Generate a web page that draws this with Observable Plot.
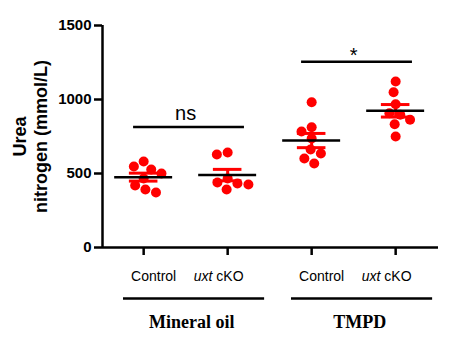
<!DOCTYPE html>
<html><head><meta charset="utf-8">
<script src="https://cdn.jsdelivr.net/npm/d3@7"></script>
<script src="https://cdn.jsdelivr.net/npm/@observablehq/plot@0.6"></script>
<style>body{margin:0;background:#fff}</style>
</head><body><div id="chart"></div>
<script>
// ---- data ----
const groups = ["Mineral oil", "TMPD"];
const categories = ["Control", "uxt cKO", "Control", "uxt cKO"];
const categoryGroup = [0, 0, 1, 1];
const mineralOilControl = [581, 547, 527, 500, 466, 419, 392, 372];
const mineralOilCko = [642, 628, 466, 439, 432, 426, 392];
const tmpdControl = [982, 813, 784, 736, 662, 635, 601, 568];
const tmpdCko = [1122, 1049, 968, 907, 897, 863, 833, 750];
const yTicks = [0, 500, 1000, 1500];
const comparisons = [
  {a: 0, b: 1, level: 815, label: "ns"},
  {a: 2, b: 3, level: 1255, label: "*"}
];

// ---- layout ----
const W = 453, H = 348, mL = 102, mR = 15, mT = 25, mB = 101;
const xDomain = [-0.49, 3.51];
const yDomain = [0, 1500];
const R = 5;
const red = "#ff0000";
const pxX = (W - mL - mR) / (xDomain[1] - xDomain[0]);
const pxY = (H - mT - mB) / (yDomain[1] - yDomain[0]);

// simple deterministic beeswarm (pixel space), returns x offsets in x units
function swarm(values, D) {
  const order = d3.range(values.length).sort((a, b) => values[b] - values[a]);
  const placed = [], out = new Array(values.length);
  for (const k of order) {
    const y = values[k] * pxY;
    const iv = [];
    for (const p of placed) {
      const dy = Math.abs(p.y - y);
      if (dy < D) { const h = Math.sqrt(D * D - dy * dy); iv.push([p.x - h, p.x + h]); }
    }
    const cands = [0, ...iv.flat()].sort((a, b) => Math.abs(a) - Math.abs(b) || a - b);
    const x = cands.find(c => iv.every(([l, r]) => c <= l + 1e-9 || c >= r - 1e-9));
    placed.push({x, y});
    out[k] = x / pxX;
  }
  return out;
}

const series = [mineralOilControl, mineralOilCko, tmpdControl, tmpdCko];
const points = series.flatMap((vals, i) => {
  const off = swarm(vals, 11);
  return vals.map((v, k) => ({i, v, off: off[k]}));
});
const stats = series.map((vals, i) => ({
  i, mean: d3.mean(vals), sem: d3.deviation(vals) / Math.sqrt(vals.length)
}));
const cats = categories.map((c, i) => ({i, c}));
const brackets = groups.map((g, k) => ({g, a: categoryGroup.indexOf(k), b: categoryGroup.lastIndexOf(k)}));

const plot = Plot.plot({
  width: W, height: H,
  marginLeft: mL, marginRight: mR, marginTop: mT, marginBottom: mB,
  style: {fontFamily: "'Liberation Sans', Arial, sans-serif", background: "#fff", color: "#000"},
  x: {domain: xDomain},
  y: {domain: yDomain},
  marks: [
    Plot.axisY({ticks: yTicks, tickSize: 8, tickPadding: 3, fontSize: 15, fontWeight: "bold",
      strokeWidth: 2.5, label: null, tickFormat: d => String(d)}),
    Plot.axisX({ticks: [0, 1, 2, 3], tickSize: 8, tickFormat: () => "", strokeWidth: 2.5, label: null}),
    Plot.ruleX([xDomain[0]], {strokeWidth: 2.5}),
    Plot.ruleY([0], {strokeWidth: 2.5}),
    // SEM error bars
    Plot.ruleX(stats, {x: "i", y1: d => d.mean - d.sem, y2: d => d.mean + d.sem, stroke: red, strokeWidth: 3}),
    Plot.ruleY(stats, {y: d => d.mean + d.sem, x1: d => d.i - 0.17, x2: d => d.i + 0.17, stroke: red, strokeWidth: 3}),
    Plot.ruleY(stats, {y: d => d.mean - d.sem, x1: d => d.i - 0.17, x2: d => d.i + 0.17, stroke: red, strokeWidth: 3}),
    // points
    Plot.dot(points, {x: d => d.i + d.off, y: "v", r: R, fill: red, stroke: "none"}),
    // mean lines
    Plot.ruleY(stats, {y: "mean", x1: d => d.i - 0.345, x2: d => d.i + 0.345, strokeWidth: 2.5}),
    // significance
    Plot.ruleY(comparisons, {y: "level", x1: d => d.a - 0.12, x2: d => d.b + 0.2, strokeWidth: 2.5}),
    Plot.text(comparisons.filter(d => d.label === "ns"), {x: d => (d.a + d.b) / 2, y: "level", text: "label", fontSize: 20, lineAnchor: "middle", dy: -13}),
    Plot.text(comparisons.filter(d => d.label !== "ns"), {x: d => (d.a + d.b) / 2, y: "level", text: "label", fontSize: 20, lineAnchor: "middle", dy: -6}),
    // category labels
    Plot.text(cats.filter(d => d.c === "Control"), {x: "i", frameAnchor: "bottom", lineAnchor: "middle", text: "c", fontSize: 14, dy: 29, dx: 10}),
    Plot.text(cats.filter(d => d.c !== "Control"), {x: "i", frameAnchor: "bottom", lineAnchor: "middle", text: "c", fontSize: 14, dy: 29, dx: -9}),
    // group brackets
    Plot.ruleY(brackets, {y: () => 0, x1: d => d.a - 0.24, x2: d => d.b + 0.44, dy: 51, strokeWidth: 2.5}),
    Plot.text(brackets, {x: d => (d.a + d.b) / 2, frameAnchor: "bottom", lineAnchor: "middle", text: "g",
      fontFamily: "'Liberation Serif', 'Times New Roman', serif", fontWeight: "bold", fontSize: 18, dy: 75, dx: 6}),
    // y label
    Plot.text(["Urea\nnitrogen (mmol/L)"], {frameAnchor: "left", textAnchor: "middle", lineAnchor: "middle", text: d => d, rotate: -90,
      fontSize: 18, fontWeight: "bold", lineHeight: 1.2, dx: -73})
  ]
});

// italicize gene name
const NS = "http://www.w3.org/2000/svg";
plot.querySelectorAll("text").forEach(t => {
  if (t.textContent === "uxt cKO") {
    t.textContent = "";
    const s = document.createElementNS(NS, "tspan");
    s.setAttribute("font-style", "italic");
    s.textContent = "uxt";
    t.append(s, document.createTextNode(" cKO"));
  }
});
document.getElementById("chart").append(plot);
</script>
</body></html>
